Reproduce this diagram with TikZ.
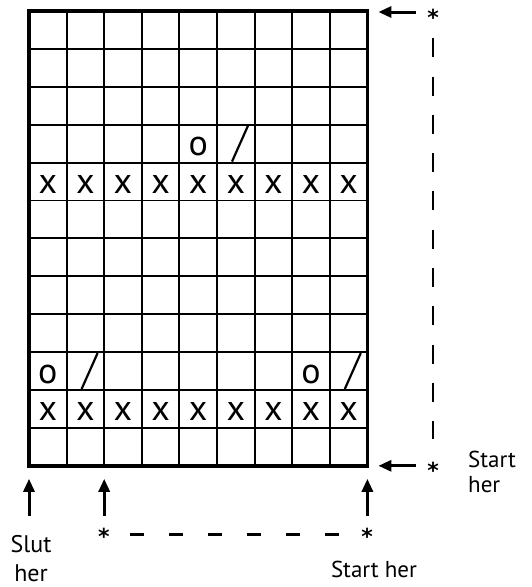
\documentclass[tikz,border=0pt]{standalone}
\usepackage{fontspec}
\setmainfont{PT Sans}
\newfontfamily\starfont{DejaVu Sans}
\usetikzlibrary{arrows.meta}

\tikzset{
  gridline/.style={line width=1.9pt},
  frameline/.style={line width=3.6pt},
  pointer/.style={line width=3pt,-{Triangle[length=13pt,width=11pt]}},
  dashline/.style={line width=2.5pt},
  stitch/.style={font=\fontsize{36}{36}\selectfont,inner sep=0pt},
  slashmark/.style={line width=2.2pt},
  starmark/.style={font=\starfont\bfseries\fontsize{22}{22}\selectfont,inner sep=0pt,anchor=base},
  note/.style={font=\fontsize{23}{25}\selectfont,inner sep=0pt},
}

\begin{document}
\begin{tikzpicture}[x=1pt,y=-1pt]
  \useasboundingbox (0,0) rectangle (531,587);
  \def\cw{37.6}
  \def\ch{37.9}
  % grid: 9 stitches, 12 rows
  \coordinate (gridNW) at (29,11);
  \coordinate (gridNE) at (367.4,11);
  \coordinate (gridSW) at (29,465.8);
  \coordinate (gridSE) at (367.4,465.8);
  \foreach \c in {1,...,8}
    \draw[gridline] (29+\c*\cw,11) -- (29+\c*\cw,465.8);
  \foreach \r in {1,...,11}
    \draw[gridline] (29,11+\r*\ch) -- (367.4,11+\r*\ch);
  \draw[frameline] (gridNW) rectangle (gridSE);
  % stitches
  \foreach \c in {1,...,9} {
    \node[stitch] (xa\c) at (29+\c*\cw-0.5*\cw,11+4.5*\ch+3) {x};
    \node[stitch] (xb\c) at (29+\c*\cw-0.5*\cw,11+10.5*\ch+3) {x};
  }
  \node[stitch] (oa) at (29+4.5*\cw,11+3.5*\ch+3) {o};
  \node[stitch] (ob) at (29+0.5*\cw,11+9.5*\ch+3) {o};
  \node[stitch] (oc) at (29+7.5*\cw,11+9.5*\ch+3) {o};
  \foreach \c/\r in {5/3,1/9,8/9}
    \draw[slashmark] (29+\c*\cw+15,11+\r*\ch+\ch-1) -- (29+\c*\cw+31,11+\r*\ch+1);
  % right side
  \node[starmark] (stop) at (433,25.5) {*};
  \node[starmark] (sright) at (433,478.5) {*};
  \coordinate (ttail) at (416,12);
  \coordinate (tend) at (367.4,12);
  \coordinate (btail) at (416,465.8);
  \draw[pointer,shorten >=11pt] (ttail) -- (tend);
  \draw[pointer,shorten >=11pt] (btail) -- (gridSE);
  \draw[dashline,dash pattern=on 19pt off 19.3pt,shorten <=12.5pt,shorten >=23pt] (stop.south) -- (sright.north);
  \node[note,anchor=south west,align=left] (startright) at (468,493.3) {Start\\her};
  % bottom side
  \coordinate (gridB) at (29+2*\cw,465.8);
  \coordinate (ltail) at (29,516);
  \coordinate (mtail) at (29+2*\cw,516);
  \coordinate (rtail) at (367.4,516);
  \draw[pointer,shorten >=13pt] (ltail) -- (gridSW);
  \draw[pointer,shorten >=13pt] (mtail) -- (gridB);
  \draw[pointer,shorten >=13pt] (rtail) -- (gridSE);
  \node[starmark] (sbl) at (104,544.5) {*};
  \node[starmark] (sbr) at (367,544.5) {*};
  \draw[dashline,dash pattern=on 14pt off 25pt,shorten <=20.5pt,shorten >=16.5pt] ([yshift=2pt]sbl.east) -- ([yshift=2pt]sbr.west);
  \node[note,anchor=south,align=center,font=\fontsize{24}{29}\selectfont] (slut) at (31,582) {Slut\\her};
  \node[note,anchor=base] (startbottom) at (374,577) {Start her};
\end{tikzpicture}
\end{document}
